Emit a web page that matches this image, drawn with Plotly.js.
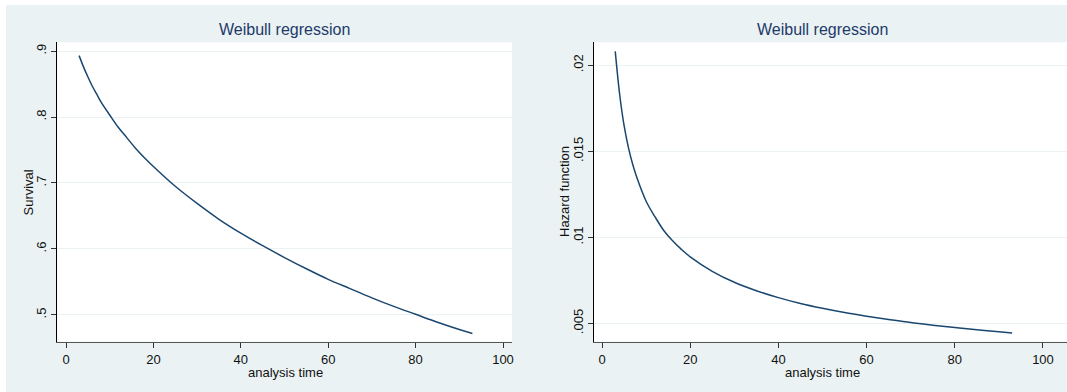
<!DOCTYPE html>
<html>
<head>
<meta charset="utf-8">
<script src="https://cdn.plot.ly/plotly-3.0.1.min.js"></script>
<style>
  html, body { margin: 0; padding: 0; background: #ffffff; }
  #chart { position: absolute; left: 6px; top: 5px; width: 1061px; height: 387px; }
</style>
</head>
<body>
<div id="chart"></div>
<script>
// analysis time
const analysisTime = [3, 4, 5, 6, 7, 8, 10, 12, 14, 16, 18, 20, 25, 30, 35, 40, 45, 50, 55, 60, 65, 70, 75, 80, 85, 90, 93];
// Weibull survival
const survival = [0.893, 0.876, 0.861, 0.847, 0.835, 0.823, 0.803, 0.784, 0.768, 0.752, 0.738, 0.725, 0.695, 0.669, 0.645, 0.624, 0.605, 0.587, 0.570, 0.554, 0.540, 0.526, 0.513, 0.501, 0.489, 0.478, 0.472];
// Weibull hazard
const hazard = [0.0208, 0.0183, 0.0165, 0.0152, 0.0142, 0.0134, 0.0121, 0.0112, 0.0104, 0.0098, 0.0093, 0.00887, 0.00803, 0.00739, 0.00690, 0.00650, 0.00616, 0.00588, 0.00563, 0.00542, 0.00523, 0.00505, 0.00490, 0.00476, 0.00463, 0.00452, 0.00445];

const xTicks = [0, 20, 40, 60, 80, 100];
const xTickText = ['0', '20', '40', '60', '80', '100'];
const survTicks = [0.5, 0.6, 0.7, 0.8, 0.9];
const survTickText = ['.5', '.6', '.7', '.8', '.9'];
const hazTicks = [0.005, 0.01, 0.015, 0.02];
const hazTickText = ['.005', '.01', '.015', '.02'];

const panelTitle = 'Weibull regression';
const xTitle = 'analysis time';
const yTitleLeft = 'Survival';
const yTitleRight = 'Hazard function';

const W = 1061, H = 387;
const px = v => v / W;
const py = v => 1 - v / H;

const lineColor = '#1a476f';
const font = 'Liberation Sans, Arial, sans-serif';

const traces = [
  { x: analysisTime, y: survival, type: 'scatter', mode: 'lines', line: { color: lineColor, width: 1.5, shape: 'spline' }, xaxis: 'x', yaxis: 'y', hoverinfo: 'skip' },
  { x: analysisTime, y: hazard, type: 'scatter', mode: 'lines', line: { color: lineColor, width: 1.5, shape: 'spline' }, xaxis: 'x2', yaxis: 'y2', hoverinfo: 'skip' }
];

const xCommon = {
  tickmode: 'array', tickvals: xTicks, ticktext: xTickText,
  ticks: 'outside', ticklen: 5, tickwidth: 1, tickcolor: '#333',
  showline: true, linecolor: '#555', linewidth: 1.5,
  showgrid: false, zeroline: false,
  tickfont: { family: font, size: 13, color: '#111' }
};
const yCommon = {
  ticks: 'outside', ticklen: 5, tickwidth: 1, tickcolor: '#333',
  showline: true, linecolor: '#000', linewidth: 1,
  showgrid: true, gridcolor: '#eaf2f3', gridwidth: 1,
  zeroline: false, tickangle: -90,
  tickfont: { family: font, size: 13, color: '#111' },
  tickmode: 'array'
};

const layout = {
  width: W, height: H,
  margin: { l: 0, r: 0, t: 0, b: 0 },
  paper_bgcolor: '#eaf2f3',
  plot_bgcolor: '#ffffff',
  showlegend: false,
  xaxis: Object.assign({}, xCommon, { domain: [px(51.3), px(506)], range: [-1.99, 102.06], anchor: 'y' }),
  yaxis: Object.assign({}, yCommon, { domain: [py(336.7), py(37.3)], range: [0.4595, 0.9132], tickvals: survTicks, ticktext: survTickText, anchor: 'x' }),
  xaxis2: Object.assign({}, xCommon, { domain: [px(588), 1], range: [-1.82, 105.45], anchor: 'y2' }),
  yaxis2: Object.assign({}, yCommon, { domain: [py(336.7), py(37.3)], range: [0.00394, 0.02133], tickvals: hazTicks, ticktext: hazTickText, anchor: 'x2' }),
  annotations: [
    { text: panelTitle, xref: 'paper', yref: 'paper', x: px(278.5), y: py(25), xanchor: 'center', yanchor: 'middle', showarrow: false, font: { family: font, size: 16, color: '#1e3a6a' } },
    { text: panelTitle, xref: 'paper', yref: 'paper', x: px(816), y: py(25), xanchor: 'center', yanchor: 'middle', showarrow: false, font: { family: font, size: 16, color: '#1e3a6a' } },
    { text: xTitle, xref: 'paper', yref: 'paper', x: px(279), y: py(367), xanchor: 'center', yanchor: 'middle', showarrow: false, font: { family: font, size: 13, color: '#111' } },
    { text: xTitle, xref: 'paper', yref: 'paper', x: px(816.3), y: py(367), xanchor: 'center', yanchor: 'middle', showarrow: false, font: { family: font, size: 13, color: '#111' } },
    { text: yTitleLeft, xref: 'paper', yref: 'paper', x: px(22), y: py(187.5), xanchor: 'center', yanchor: 'middle', textangle: -90, showarrow: false, font: { family: font, size: 13, color: '#111' } },
    { text: yTitleRight, xref: 'paper', yref: 'paper', x: px(558), y: py(187), xanchor: 'center', yanchor: 'middle', textangle: -90, showarrow: false, font: { family: font, size: 13, color: '#111' } }
  ]
};

Plotly.newPlot('chart', traces, layout, { staticPlot: true, displayModeBar: false });
</script>
</body>
</html>
